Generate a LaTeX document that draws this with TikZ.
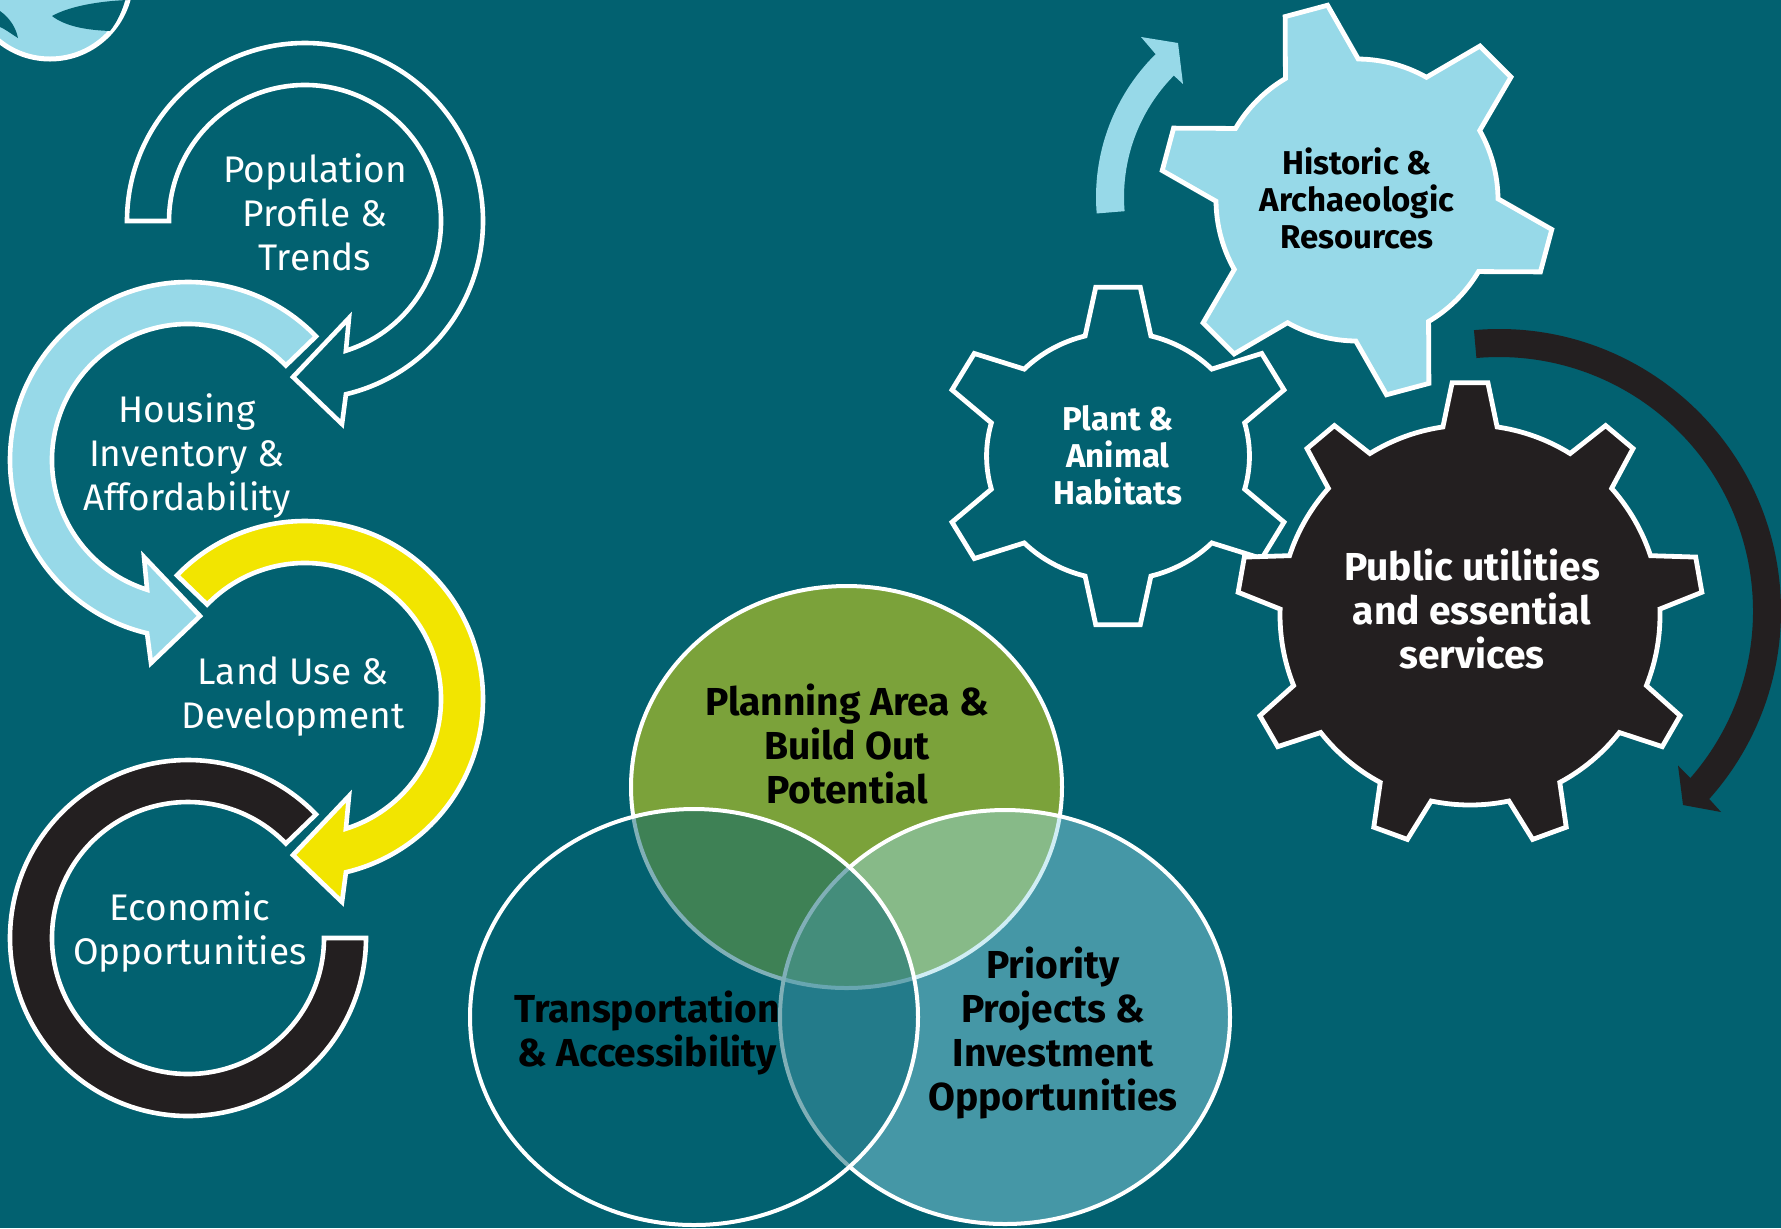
\documentclass[tikz,border=0pt]{standalone}
\usepackage{fontspec}
\setmainfont{Fira Sans}
\newfontfamily\condfont{Fira Sans}
\usetikzlibrary{calc}
\definecolor{bgteal}{RGB}{2,97,112}
\definecolor{lblue}{RGB}{151,217,232}
\definecolor{ayellow}{RGB}{242,229,0}
\definecolor{ablack}{RGB}{35,31,32}
\definecolor{vgreen}{RGB}{123,162,58}
\newcommand{\gearpath}[6]{({#2+#4}:#3) \foreach \k in {1,...,#1} { arc[start angle={#2+(\k-1)*360/#1+#4}, end angle={#2+\k*360/#1-#4}, radius=#3] -- ({#2+\k*360/#1-#6}:#5) -- ({#2+\k*360/#1+#6}:#5) -- ({#2+\k*360/#1+#4}:#3) } -- cycle}
\tikzset{
  outl/.style={draw=white, line width=2.3pt, line join=miter},
  gearline/.style={draw=white, line width=2.4pt, line join=miter},
  vennline/.style={draw=white, line width=2pt},
  lbl/.style={text=white, align=center, font=\fontsize{18.5}{22}\selectfont},
  blbl/.style={align=center, font=\condfont\bfseries\fontsize{19.5}{22}\selectfont},
  glbl/.style={align=center, font=\condfont\bfseries\fontsize{16.5}{18.5}\selectfont},
}
\begin{document}
\begin{tikzpicture}[x=0.5pt,y=0.5pt]
\useasboundingbox (0,0) rectangle (1781,-1228);
\fill[bgteal] (0,0) rectangle (1781,-1228);

% logo fragment top-left
\begin{scope}
\clip (0,0) rectangle (1781,-1228);
\filldraw[draw=white, line width=2.5pt, fill=lblue] (50,22) circle[radius=81];
\fill[bgteal] (52,-16) .. controls (70,-6) and (100,-1) .. (128,0) -- (126,3) .. controls (122,-12) and (117,-22) .. (110,-31) .. controls (85,-30) and (65,-26) .. (52,-16) -- cycle;
\fill[bgteal] (0,-11) .. controls (10,-18) and (16,-28) .. (18,-38) .. controls (10,-33) and (5,-29) .. (0,-27) -- cycle;
\end{scope}

% left circular arrows
\begin{scope}[shift={(305,-221)}]
\filldraw[outl, fill=bgteal] (180:178) arc[start angle=180, end angle=-76.7, radius=178] -- (37,-203) -- (-12,-156) -- (44,-97) -- (-72.5:136) arc[start angle=-72.5, end angle=180, radius=136] -- cycle;
\end{scope}
\begin{scope}[shift={(188,-460)}]
\filldraw[outl, fill=lblue] (44:178) arc[start angle=44, end angle=256.7, radius=178] -- (-37,-203) -- (12,-156) -- (-44,-97) -- (252.5:136) arc[start angle=252.5, end angle=44, radius=136] -- cycle;
\end{scope}
\begin{scope}[shift={(305,-699)}]
\filldraw[outl, fill=ayellow] (136:178) arc[start angle=136, end angle=-76.7, radius=178] -- (37,-203) -- (-12,-156) -- (44,-97) -- (-72.5:136) arc[start angle=-72.5, end angle=136, radius=136] -- cycle;
\end{scope}
\begin{scope}[shift={(188,-938)}]
\filldraw[outl, fill=ablack] (44:178) arc[start angle=44, end angle=360, radius=178] -- (136,0) arc[start angle=360, end angle=44, radius=136] -- cycle;
\end{scope}

\node[lbl] (pop) at (315,-212) {Population\\Profile \&\\Trends};
\node[lbl] (hou) at (187,-456) {Housing\\Inventory \&\\Affordability};
\node[lbl] (land) at (293,-697) {Land Use \&\\Development};
\node[lbl] (econ) at (190,-932) {Economic\\Opportunities};

% Venn
\filldraw[vennline, fill=vgreen] (846.5,-787) ellipse[x radius=215.5, y radius=201];
\filldraw[vennline, fill=lblue, fill opacity=0.45] (1005,-1017) ellipse[x radius=225, y radius=207];
\filldraw[vennline, fill=bgteal, fill opacity=0.5] (694,-1017) ellipse[x radius=224, y radius=208];
\node[blbl] (plan) at (847,-744) {Planning Area \&\\Build Out\\Potential};
\node[blbl] (trans) at (647,-1033) {Transportation\\\& Accessibility};
\node[blbl] (prio) at (1053,-1033) {Priority\\Projects \&\\Investment\\Opportunities};

% curved arrows
\begin{scope}[shift={(1297,-197)}]
\fill[lblue] (184.7:201) arc[start angle=184.7, end angle=134.7, radius=201] -- (-156,160) -- (-119,154) -- (-114,113) -- (135.4:173) arc[start angle=135.4, end angle=184.7, radius=173] -- cycle;
\end{scope}
\begin{scope}[shift={(1499,-611)}]
\fill[ablack] (95.1:282) arc[start angle=95.1, end angle=-41.8, radius=282] -- (222,-201) -- (184,-194) -- (179,-154.5) -- (-41.1:254) arc[start angle=-41.1, end angle=95.1, radius=254] -- cycle;
\end{scope}

% gears
\begin{scope}[shift={(1118,-456)}, xscale=1.06]
\filldraw[gearline, fill=bgteal] \gearpath{6}{30}{124}{14.5}{170}{7.1};
\end{scope}
\begin{scope}[shift={(1357,-200)}]
\filldraw[gearline, fill=lblue] \gearpath{6}{45}{141}{15.5}{197}{6.4};
\end{scope}
\begin{scope}[shift={(1470,-615)}]
\filldraw[gearline, fill=ablack] \gearpath{9}{50}{190}{8.2}{233}{4.4};
\end{scope}
\node[glbl, text=black] (hist) at (1357,-198) {Historic \&\\Archaeologic\\Resources};
\node[glbl, text=white] (plant) at (1118,-455) {Plant \&\\Animal\\Habitats};
\node[blbl, text=white] (pub) at (1472,-609) {Public utilities\\and essential\\services};
\end{tikzpicture}
\end{document}
